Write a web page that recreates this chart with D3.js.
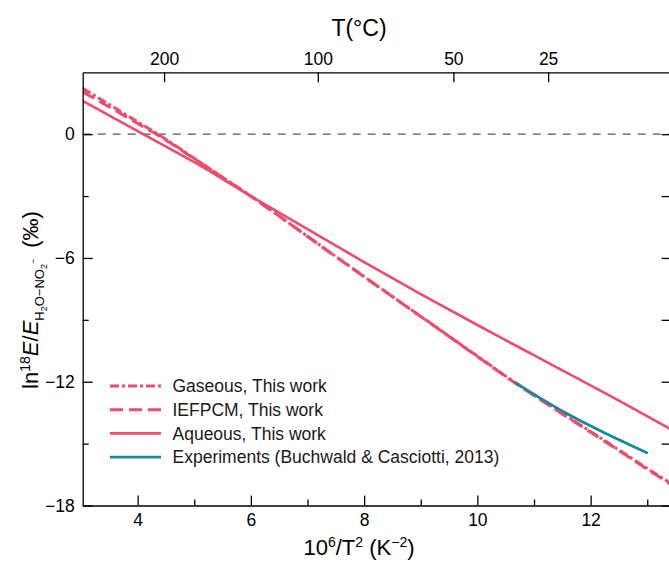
<!DOCTYPE html>
<html>
<head>
<meta charset="utf-8">
<script src="https://cdn.jsdelivr.net/npm/d3@7"></script>
<style>
  html, body { margin: 0; padding: 0; background: #fff; }
  svg { display: block; font-family: "Liberation Sans", Arial, Helvetica, sans-serif; }
</style>
</head>
<body>
<svg id="chart" width="669" height="564"></svg>
<script>
// ---------------- data ----------------
const xMajorTicks = [4, 6, 8, 10, 12];
const xMinorTicks = [5, 7, 9, 11, 13];
const yMajorTicks = [0, -6, -12, -18];
const yMinorTicks = [-3, -9, -15];
const topTickCelsius = [200, 100, 50, 25];

const gaseousX = [3.03, 3.5, 4.0, 4.36, 5.0, 5.5, 6.1, 7.0, 8.0, 8.63, 9.0, 10.0, 10.66, 11.5, 12.3, 13.0, 13.43];
const gaseousY = [2.22, 1.44, 0.60, 0.0, -1.17, -2.09, -3.19, -4.95, -6.90, -8.12, -8.83, -10.76, -12.03, -13.53, -14.95, -16.20, -16.95];

const iefpcmX = [3.03, 3.5, 4.0, 4.36, 5.0, 5.5, 6.1, 7.0, 8.0, 8.63, 9.0, 10.0, 10.66, 11.5, 12.3, 13.0, 13.43];
const iefpcmY = [2.05, 1.32, 0.52, -0.05, -1.19, -2.10, -3.20, -4.96, -6.91, -8.13, -8.84, -10.78, -12.05, -13.56, -14.98, -16.24, -17.00];

const aqueousX = [3.03, 4.0, 5.0, 6.0, 7.0, 8.0, 9.0, 10.0, 10.66, 11.5, 12.5, 13.43];
const aqueousY = [1.62, 0.15, -1.36, -3.00, -4.60, -6.20, -7.75, -9.25, -10.22, -11.45, -12.92, -14.33];

const experimentX = [10.66, 11.2, 11.57, 12.3, 13.01];
const experimentY = [-12.03, -12.94, -13.53, -14.55, -15.47];

const legendLabels = ["Gaseous, This work", "IEFPCM, This work", "Aqueous, This work", "Experiments (Buchwald & Casciotti, 2013)"];

// ---------------- layout ----------------
const svg = d3.select("#chart");
const pL = 82.7, pR = 671.6, pT = 72.3, pB = 505.5;
const pink = "#EC4D6C", teal = "#158A9B";
const fs = 17.5;

const x = d3.scaleLinear().domain([3.03, 13.43]).range([pL, pR]);
const y = d3.scaleLinear().domain([-18, 3]).range([pB, pT]);

svg.append("defs").append("clipPath").attr("id", "clip")
  .append("rect").attr("x", pL).attr("y", pT).attr("width", pR - pL).attr("height", pB - pT);

// zero reference line
svg.append("line")
  .attr("x1", pL).attr("x2", pR)
  .attr("y1", y(0)).attr("y2", y(0))
  .attr("stroke", "#555").attr("stroke-width", 1.3)
  .attr("stroke-dasharray", "8,7");

// series lines
const line = d3.line().x(d => x(d[0])).y(d => y(d[1])).curve(d3.curveMonotoneX);
const plot = svg.append("g").attr("clip-path", "url(#clip)");
const zip = (a, b) => a.map((v, i) => [v, b[i]]);

const series = [
  { data: zip(aqueousX, aqueousY), color: pink, dash: null, width: 2.6 },
  { data: zip(iefpcmX, iefpcmY), color: pink, dash: "13,6", width: 3 },
  { data: zip(gaseousX, gaseousY), color: pink, dash: "9,3,3,3", width: 3 },
  { data: zip(experimentX, experimentY), color: teal, dash: null, width: 2.8 }
];
series.forEach(s => {
  plot.append("path").datum(s.data)
    .attr("fill", "none").attr("stroke", s.color)
    .attr("stroke-width", s.width)
    .attr("stroke-dasharray", s.dash)
    .attr("d", line);
});

// ---------------- axes ----------------
function styleAxis(g) {
  g.selectAll("path.domain").attr("stroke", "#000").attr("stroke-width", 1.3);
  g.selectAll(".tick line").attr("stroke", "#000").attr("stroke-width", 1.3);
  g.selectAll(".tick text").attr("fill", "#000").attr("font-size", fs)
    .attr("font-family", '"Liberation Sans", Arial, sans-serif');
}

// bottom
svg.append("g").attr("transform", `translate(0,${pB})`)
  .call(d3.axisBottom(x).tickValues(xMajorTicks).tickSizeInner(-10).tickSizeOuter(0).tickPadding(8.5))
  .call(styleAxis);
svg.append("g").attr("transform", `translate(0,${pB})`)
  .call(d3.axisBottom(x).tickValues(xMinorTicks).tickSizeInner(-6).tickSizeOuter(0).tickFormat(""))
  .call(styleAxis).select("path.domain").remove();

// left
svg.append("g").attr("transform", `translate(${pL},0)`)
  .call(d3.axisLeft(y).tickValues(yMajorTicks).tickSizeInner(-10).tickSizeOuter(0).tickPadding(8))
  .call(styleAxis);
svg.append("g").attr("transform", `translate(${pL},0)`)
  .call(d3.axisLeft(y).tickValues(yMinorTicks).tickSizeInner(-6).tickSizeOuter(0).tickFormat(""))
  .call(styleAxis).select("path.domain").remove();

// right
svg.append("g").attr("transform", `translate(${pR},0)`)
  .call(d3.axisRight(y).tickValues(yMajorTicks.concat(yMinorTicks)).tickSizeInner(-10).tickSizeOuter(0).tickFormat(""))
  .call(styleAxis);

// top (temperature in °C, positioned at 10^6/T^2)
const toX = c => 1e6 / Math.pow(c + 273.15, 2);
const topPos = topTickCelsius.map(toX);
svg.append("g").attr("transform", `translate(0,${pT})`)
  .call(d3.axisTop(x).tickValues(topPos).tickSizeInner(-10).tickSizeOuter(0).tickPadding(7.3)
    .tickFormat((d, i) => topTickCelsius[i]))
  .call(styleAxis);

// ---------------- titles ----------------
svg.append("text").attr("x", 359).attr("y", 36)
  .attr("text-anchor", "middle").attr("font-size", 23).attr("fill", "#000")
  .text("T(°C)");

const xt = svg.append("text").attr("x", 359).attr("y", 555)
  .attr("text-anchor", "middle").attr("font-size", 22).attr("fill", "#000");
xt.append("tspan").text("10");
xt.append("tspan").attr("font-size", 14).attr("dy", -8).text("6");
xt.append("tspan").attr("dy", 8).text("/T");
xt.append("tspan").attr("font-size", 14).attr("dy", -8).text("2");
xt.append("tspan").attr("dy", 8).text(" (K");
xt.append("tspan").attr("font-size", 14).attr("dy", -8).text("−2");
xt.append("tspan").attr("dy", 8).text(")");

const yt = svg.append("text")
  .attr("transform", "translate(38,300) rotate(-90)")
  .attr("text-anchor", "middle").attr("font-size", 22).attr("fill", "#000");
yt.append("tspan").text("ln");
yt.append("tspan").attr("font-size", 14).attr("dy", -8).text("18");
yt.append("tspan").attr("dy", 8).attr("font-style", "italic").text("E");
yt.append("tspan").text("/");
yt.append("tspan").attr("font-style", "italic").text("E");
yt.append("tspan").attr("font-size", 13).attr("dy", 6).text("H");
yt.append("tspan").attr("font-size", 9).attr("dy", 3).text("2");
yt.append("tspan").attr("font-size", 13).attr("dy", -3).text("O−NO");
yt.append("tspan").attr("font-size", 9).attr("dy", 3).text("2");
yt.append("tspan").attr("font-size", 9).attr("dy", -11).text("−");
yt.append("tspan").attr("dy", 2).text("\u2002(‰)");

// ---------------- legend ----------------
const legendY0 = 386, legendStep = 23.7;
legendLabels.forEach((lab, i) => {
  const s = series[[2, 1, 0, 3][i]];
  const ly = legendY0 + i * legendStep;
  svg.append("line").attr("x1", 110).attr("x2", 161).attr("y1", ly).attr("y2", ly)
    .attr("stroke", s.color).attr("stroke-width", s.width).attr("stroke-dasharray", s.dash);
  svg.append("text").attr("x", 172.5).attr("y", ly).attr("dy", "0.35em")
    .attr("font-size", fs).attr("fill", "#1a1a1a").text(lab);
});
</script>
</body>
</html>
